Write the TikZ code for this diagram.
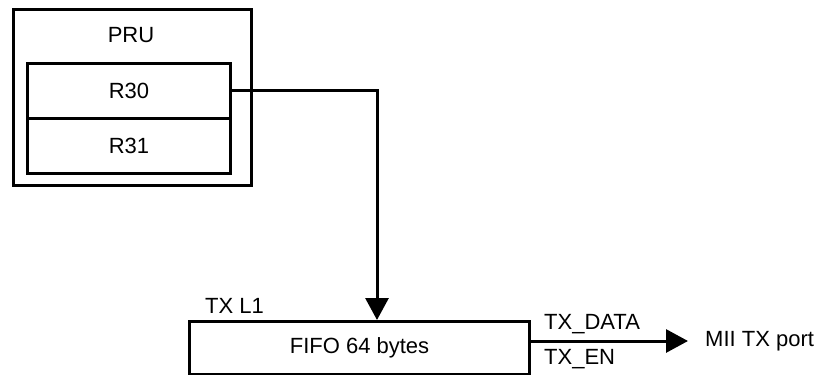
\documentclass[tikz,border=0pt]{standalone}
\usepackage{fontspec}
\setmainfont{Liberation Sans}
\usetikzlibrary{arrows.meta}
\begin{document}
\begin{tikzpicture}[x=1pt,y=-1pt,
  box/.style={draw,line width=3pt,inner sep=0pt,anchor=north west},
  lbl/.style={font=\fontsize{22}{25}\selectfont,inner sep=0pt},
  wire/.style={line width=3pt},
  arr/.style={wire,-{Triangle[length=22pt,width=23pt]}}]
\useasboundingbox (0,0) rectangle (817,375);
\node[box,minimum width=238pt,minimum height=176pt] (pru) at (12,8) {};
\node[lbl] (prul) at (131,35) {PRU};
\node[box,minimum width=203pt,minimum height=55pt] (r30) at (26,62) {};
\node[box,minimum width=203pt,minimum height=55pt] (r31) at (26,117) {};
\node[lbl] at (r30.center) {R30};
\node[lbl] at (r31.center) {R31};
\node[box,minimum width=340pt,minimum height=53pt] (fifo) at (188,320) {};
\node[lbl] at (fifo.center) {FIFO 64 bytes};
\node[lbl,anchor=west] (txl1) at (205,306) {TX L1};
\coordinate (bend) at (377,90);
\draw[arr] (r30.east |- bend) -- (bend) -- (bend |- fifo.north);
\node[lbl,anchor=west] (mii) at (705,341) {MII TX port};
\coordinate (out) at (fifo.east |- mii.west);
\draw[arr] (out) -- ([xshift=-17pt]mii.west);
\node[lbl,anchor=west] (txd) at (544,324) {TX\_DATA};
\node[lbl,anchor=west] (txe) at (544,359) {TX\_EN};
\end{tikzpicture}
\end{document}
